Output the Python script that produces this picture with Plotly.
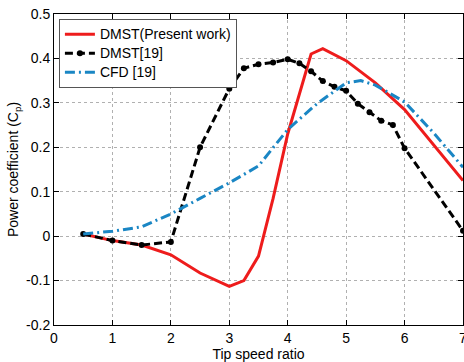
import plotly.graph_objects as go

red_x = [0.5, 1, 1.5, 2, 2.5, 3, 3.25, 3.5, 3.75, 4, 4.4, 4.6, 5, 5.5, 6, 6.5, 7]
red_y = [0.005, -0.01, -0.02, -0.042, -0.083, -0.113, -0.1, -0.045, 0.085, 0.23, 0.41, 0.422, 0.395, 0.345, 0.285, 0.205, 0.125]

blk_x = [0.5, 1, 1.5, 2, 2.5, 3, 3.25, 3.5, 3.75, 4, 4.2, 4.4, 4.6, 4.8, 5, 5.2, 5.4, 5.6, 5.8, 6, 7]
blk_y = [0.005, -0.01, -0.02, -0.013, 0.2, 0.332, 0.378, 0.387, 0.391, 0.398, 0.389, 0.371, 0.349, 0.336, 0.327, 0.298, 0.279, 0.26, 0.25, 0.198, 0.012]

cfd_x = [0.5, 1, 1.5, 2, 2.5, 3, 3.5, 4, 4.5, 5, 5.25, 5.5, 6, 6.5, 7]
cfd_y = [0.005, 0.011, 0.021, 0.05, 0.085, 0.12, 0.158, 0.24, 0.298, 0.345, 0.35, 0.34, 0.302, 0.232, 0.155]

x_ticks = [0, 1, 2, 3, 4, 5, 6, 7]
y_ticks = [-0.2, -0.1, 0, 0.1, 0.2, 0.3, 0.4, 0.5]
y_tick_text = ["-0.2", "-0.1", "0", "0.1", "0.2", "0.3", "0.4", "0.5"]
names = ["DMST(Present work)", "DMST[19]", "CFD [19]"]

font = "Liberation Sans, Arial, sans-serif"


def legend_name(s):
    return '<span style="font-size:14px">' + s + '</span>'


fig = go.Figure()
fig.add_trace(go.Scatter(x=red_x, y=red_y, mode="lines", name=legend_name(names[0]),
                         line=dict(color="#ee1c1c", width=3)))
fig.add_trace(go.Scatter(x=blk_x, y=blk_y, mode="lines+markers", name=legend_name(names[1]),
                         line=dict(color="black", width=3, dash="8px,4px"),
                         marker=dict(color="black", size=6, symbol="circle")))
fig.add_trace(go.Scatter(x=cfd_x, y=cfd_y, mode="lines", name=legend_name(names[2]),
                         line=dict(color="#1a86c4", width=3, dash="10px,4px,2px,4px")))

axis_common = dict(showline=True, linecolor="black", linewidth=1, mirror="ticks",
                   ticks="inside", ticklen=5, tickcolor="black",
                   showgrid=True, gridcolor="#b0b0b0", griddash="dot", gridwidth=1,
                   zeroline=False, tickfont=dict(family=font, size=14, color="black"))

fig.update_xaxes(range=[0, 7], tickvals=x_ticks,
                 title=dict(text="Tip speed ratio", font=dict(family=font, size=14, color="black"), standoff=2),
                 **axis_common)
fig.update_yaxes(range=[-0.2, 0.5], tickvals=y_ticks, ticktext=y_tick_text,
                 title=dict(text="Power coefficient (C<sub>p</sub>)", font=dict(family=font, size=14, color="black"), standoff=4),
                 **axis_common)

# the last x tick label is partly cut by the page edge in the reference
fig.add_annotation(x=x_ticks[-1], xref="x", y=0, yref="paper", yanchor="top", yshift=-3,
                   text=str(x_ticks[-1]), showarrow=False,
                   font=dict(family=font, size=14, color="black"))

fig.update_layout(
    width=464, height=362,
    margin=dict(l=54, r=1, t=14, b=37),
    paper_bgcolor="white", plot_bgcolor="white",
    showlegend=True,
    legend=dict(x=0.012, y=0.985, xanchor="left", yanchor="top",
                bgcolor="white", bordercolor="#555555", borderwidth=1,
                font=dict(family=font, size=12, color="black"),
                tracegroupgap=0, itemwidth=30),
)

fig.write_html("out.html")
